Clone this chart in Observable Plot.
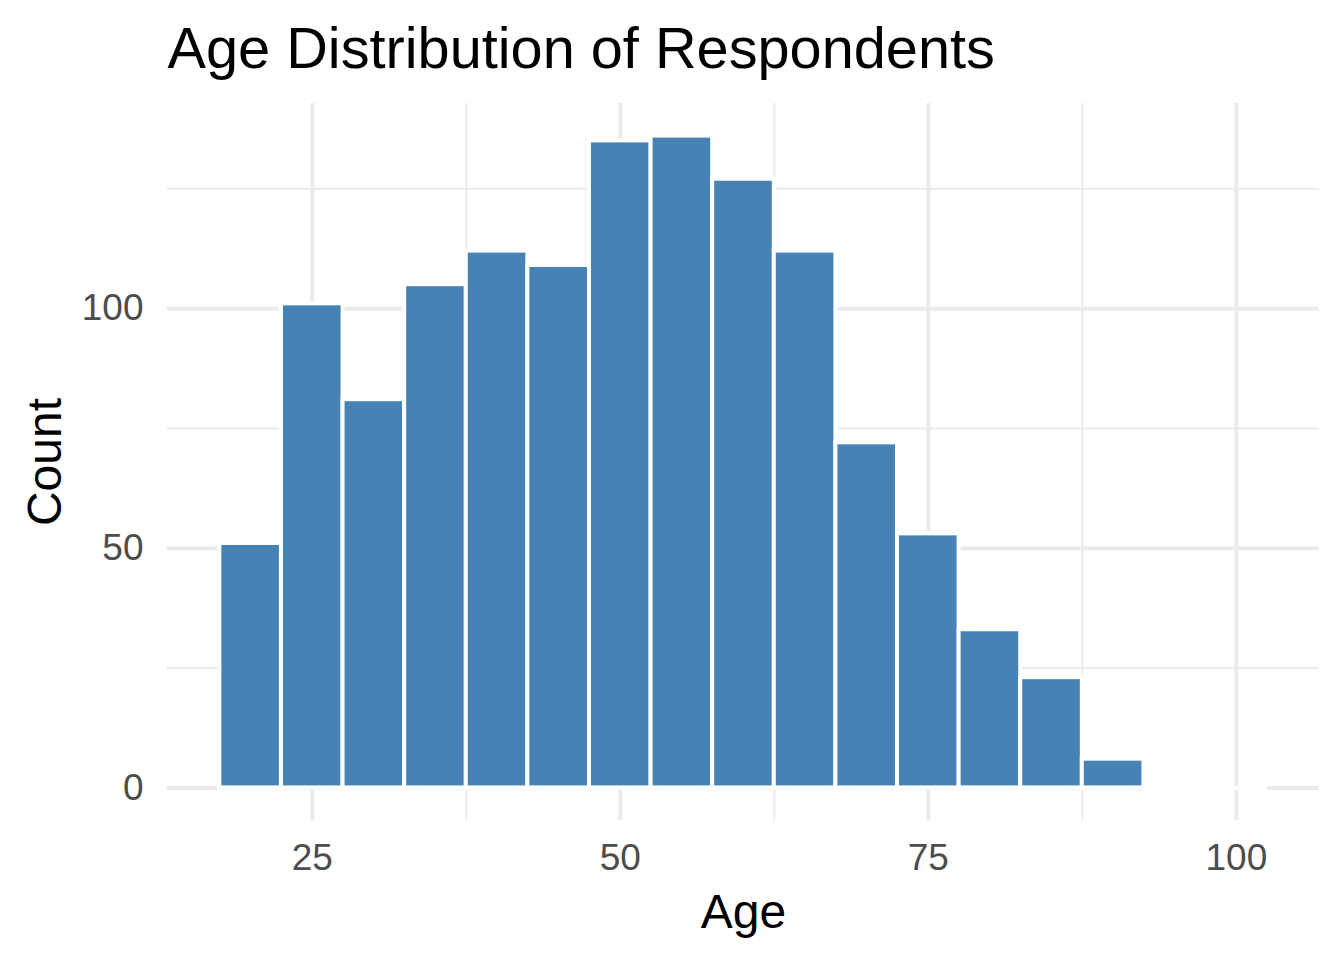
<!DOCTYPE html>
<html>
<head>
<meta charset="utf-8">
<script src="https://cdn.jsdelivr.net/npm/d3@7"></script>
<script src="https://cdn.jsdelivr.net/npm/@observablehq/plot@0.6"></script>
<style>
  html, body { margin: 0; padding: 0; background: #ffffff; }
  #chart { width: 1344px; height: 960px; }
</style>
</head>
<body>
<div id="chart"></div>
<script>
// ---- data ----
const binCenters = [20, 25, 30, 35, 40, 45, 50, 55, 60, 65, 70, 75, 80, 85, 90, 95, 100];
const counts     = [51, 101, 81, 105, 112, 109, 135, 136, 127, 112, 72, 53, 33, 23, 6, 0, 0];
const binWidth = 5;
const xTicks = [25, 50, 75, 100];
const xMinor = [37.5, 62.5, 87.5];
const yTicks = [0, 50, 100];
const yMinor = [25, 75, 125];
const titleText = "Age Distribution of Respondents";
const xLabel = "Age";
const yLabel = "Count";

const bins = binCenters.map((c, i) => ({ x1: c - binWidth / 2, x2: c + binWidth / 2, count: counts[i] }));
const emptyBins = bins.filter(d => d.count === 0);

// ggplot-style 5% expansion
const xmin = d3.min(bins, d => d.x1), xmax = d3.max(bins, d => d.x2);
const xpad = (xmax - xmin) * 0.05;
const ymax = d3.max(counts);
const ypad = ymax * 0.05;

const grid = "#ebebeb";
const font = "'Liberation Sans', Arial, sans-serif";

const chart = Plot.plot({
  width: 1344,
  height: 960,
  marginLeft: 167,
  marginRight: 25,
  marginTop: 103,
  marginBottom: 140,
  style: { fontFamily: font, background: "#ffffff", overflow: "visible" },
  x: { domain: [xmin - xpad, xmax + xpad], axis: null },
  y: { domain: [0 - ypad, ymax + ypad], axis: null },
  marks: [
    Plot.ruleY(yMinor, { stroke: grid, strokeWidth: 2 }),
    Plot.ruleX(xMinor, { stroke: grid, strokeWidth: 2 }),
    Plot.ruleY(yTicks, { stroke: grid, strokeWidth: 4 }),
    Plot.ruleX(xTicks, { stroke: grid, strokeWidth: 4 }),
    Plot.rect(bins.filter(d => d.count > 0), {
      x1: "x1", x2: "x2", y1: () => 0, y2: "count",
      fill: "#4682B4", stroke: "#ffffff", strokeWidth: 4
    }),
    Plot.ruleY(emptyBins, { x1: "x1", x2: "x2", y: () => 0, stroke: "#ffffff", strokeWidth: 4 }),
    Plot.axisX({ ticks: xTicks, tickSize: 0, tickPadding: 23, fontSize: 37, color: "#4d4d4d", label: null, tickFormat: d => String(d) }),
    Plot.axisY({ ticks: yTicks, tickSize: 0, tickPadding: 24, fontSize: 37, color: "#4d4d4d", label: null, tickFormat: d => String(d) }),
    Plot.text([xLabel], { text: d => d, frameAnchor: "bottom", dy: 107, lineAnchor: "bottom", fontSize: 48, fill: "#000000" }),
    Plot.text([yLabel], { text: d => d, frameAnchor: "left", dx: -107, rotate: -90, textAnchor: "middle", lineAnchor: "bottom", fontSize: 48, fill: "#000000" }),
    Plot.text([titleText], { text: d => d, frameAnchor: "top-left", dy: -36, textAnchor: "start", lineAnchor: "bottom", fontSize: 57.7, fill: "#000000" })
  ]
});
document.getElementById("chart").appendChild(chart);
</script>
</body>
</html>
